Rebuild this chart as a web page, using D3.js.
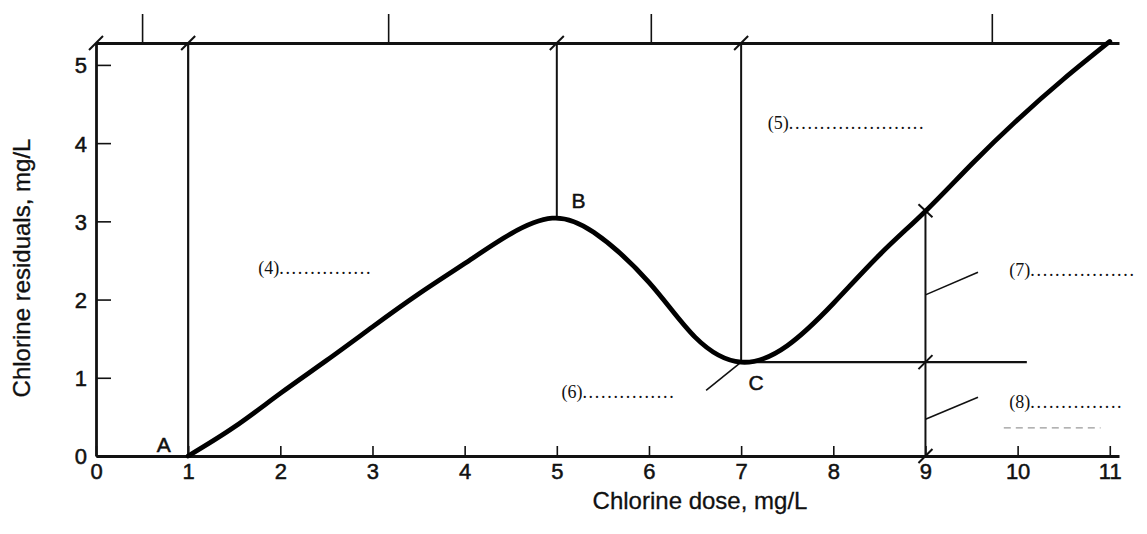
<!DOCTYPE html>
<html>
<head>
<meta charset="utf-8">
<script src="https://cdn.jsdelivr.net/npm/d3@7"></script>
<style>
  body { margin: 0; background: #fff; }
  svg { display: block; }
  .axis text { font-family: "Liberation Sans", Arial, sans-serif; font-size: 22px; fill: #111; stroke: #111; stroke-width: 0.5px; }
  .title { font-family: "Liberation Sans", Arial, sans-serif; font-size: 24px; fill: #111; stroke: #111; stroke-width: 0.3px; }
  .serif { font-family: "Liberation Serif", "Times New Roman", serif; font-size: 18px; fill: #111; }
  .pt { font-family: "Liberation Sans", Arial, sans-serif; font-size: 21px; fill: #111; stroke: #111; stroke-width: 0.5px; }
</style>
</head>
<body>
<svg id="chart" width="1147" height="534"></svg>
<script>
// breakpoint chlorination curve
var doses     = [1, 1.5, 2, 2.5, 3, 3.5, 4, 4.5, 4.95, 5.4, 6, 6.5, 7, 7.5, 8, 8.5, 9, 9.5, 10, 10.5, 11];
var residuals = [0, 0.37, 0.8, 1.22, 1.65, 2.07, 2.46, 2.84, 3.04, 2.86, 2.22, 1.52, 1.2, 1.41, 1.95, 2.57, 3.13, 3.73, 4.3, 4.82, 5.3];

var xTicks = [0, 1, 2, 3, 4, 5, 6, 7, 8, 9, 10, 11];
var yTicks = [0, 1, 2, 3, 4, 5];
var topTicks = [0.5, 3.17, 6.02, 9.72];   // unlabelled marks above the frame
var topLevel = 5.28;

// point labels
var pointNames = ["A", "B", "C"];
var pointDose  = [0.66, 5.16, 7.08];
var pointRes   = [0.05, 3.17, 0.84];

// fill-in-the-blank labels
var blankNames = ["(4)", "(5)", "(6)", "(7)", "(8)"];
var blankDots  = [15, 22, 15, 17, 15];
var blankDose  = [1.76, 7.29, 5.05, 9.91, 9.91];
var blankRes   = [2.33, 4.18, 0.74, 2.3, 0.61];

var svg = d3.select("#chart");

const x = d3.scaleLinear().domain([0, 11.1]).range([96, 1119]);
const y = d3.scaleLinear().domain([0, topLevel]).range([456, 43]);

// axes
var gx = svg.append("g").attr("class", "axis")
    .attr("transform", "translate(0," + y(0) + ")")
    .call(d3.axisBottom(x).tickValues(xTicks).tickSizeInner(-10).tickSizeOuter(0).tickPadding(7));

var gy = svg.append("g").attr("class", "axis")
    .attr("transform", "translate(" + x(0) + ",0)")
    .call(d3.axisLeft(y).tickValues(yTicks).tickFormat(d3.format("d"))
        .tickSizeInner(-15).tickSizeOuter(0).tickPadding(9));

var gt = svg.append("g").attr("class", "axis")
    .attr("transform", "translate(0," + y(topLevel) + ")")
    .call(d3.axisTop(x).tickValues(topTicks).tickSizeInner(29).tickSizeOuter(0).tickFormat(""));

svg.selectAll(".axis .domain").attr("stroke", "#111").attr("stroke-width", 2.8);
svg.selectAll(".axis .tick line").attr("stroke", "#111").attr("stroke-width", 1.6);
gy.selectAll(".tick text").attr("dy", "0.36em");

// axis titles
svg.append("text")
    .attr("class", "title")
    .attr("x", 700).attr("y", 509)
    .attr("text-anchor", "middle")
    .text("Chlorine dose, mg/L");

svg.append("text")
    .attr("class", "title")
    .attr("transform", "translate(30,268) rotate(-90)")
    .attr("text-anchor", "middle")
    .text("Chlorine residuals, mg/L");

// guide lines
function seg(x1, y1, x2, y2, w) {
    svg.append("line")
        .attr("x1", x(x1)).attr("y1", y(y1))
        .attr("x2", x(x2)).attr("y2", y(y2))
        .attr("stroke", "#111")
        .attr("stroke-width", w);
}

seg(1, 0, 1, topLevel, 2.2);
seg(5, 3.04, 5, topLevel, 2);
seg(7, 1.2, 7, topLevel, 2);
seg(9, 0, 9, 3.13, 2);
seg(7, 1.2, 10.1, 1.2, 2.4);
seg(6.62, 0.84, 7, 1.2, 1.6);
seg(9, 2.06, 9.57, 2.35, 1.6);
seg(9, 0.47, 9.57, 0.75, 1.6);

// small slash marks where lines cross
var slashAt = [[0, topLevel], [1, topLevel], [5, topLevel], [7, topLevel], [9, 0], [9, 1.2]];
slashAt.forEach(function(p) {
    svg.append("line")
        .attr("x1", x(p[0]) - 7).attr("y1", y(p[1]) + 7)
        .attr("x2", x(p[0]) + 7).attr("y2", y(p[1]) - 7)
        .attr("stroke", "#111").attr("stroke-width", 2);
});
svg.append("line")
    .attr("x1", x(9) - 7).attr("y1", y(3.13) - 7)
    .attr("x2", x(9) + 7).attr("y2", y(3.13) + 6)
    .attr("stroke", "#111").attr("stroke-width", 2);

// the curve
const curve = d3.line()
    .x(function(d, i) { return x(doses[i]); })
    .y(function(d) { return y(d); })
    .curve(d3.curveNatural);

svg.append("path")
    .attr("d", curve(residuals))
    .attr("fill", "none")
    .attr("stroke", "#000")
    .attr("stroke-width", 4.8)
    .attr("stroke-linecap", "round");

// A, B, C
svg.selectAll(".pt").data(pointNames).enter().append("text")
    .attr("class", "pt")
    .attr("x", function(d, i) { return x(pointDose[i]); })
    .attr("y", function(d, i) { return y(pointRes[i]); })
    .text(function(d) { return d; });

// blanks
svg.selectAll(".serif").data(blankNames).enter().append("text")
    .attr("class", "serif")
    .attr("x", function(d, i) { return x(blankDose[i]); })
    .attr("y", function(d, i) { return y(blankRes[i]); })
    .text(function(d, i) { return d; })
    .append("tspan")
    .attr("letter-spacing", "1.7px")
    .text(function(d, i) { return ".".repeat(blankDots[i]); });

// faint scan smudge under (8)
svg.append("line")
    .attr("x1", x(9.85)).attr("y1", y(0.36))
    .attr("x2", x(10.9)).attr("y2", y(0.36))
    .attr("stroke", "#999")
    .attr("stroke-width", 1.2)
    .attr("stroke-dasharray", "7 5");
</script>
</body>
</html>
